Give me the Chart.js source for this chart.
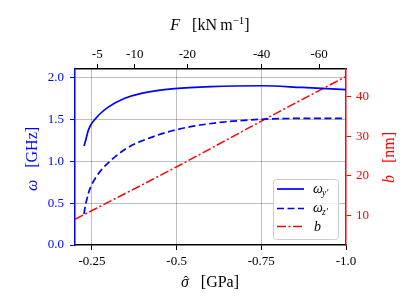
<!DOCTYPE html>
<html lang="en">
<head>
<meta charset="UTF-8">
<title>Frequencies and b vs stress</title>
<script src="https://cdn.jsdelivr.net/npm/chart.js"></script>
<style>
  body { margin: 0; background: #fff; }
  #wrap { width: 415px; height: 308px; }
</style>
</head>
<body>
<div id="wrap"><canvas id="chart" width="415" height="308"></canvas></div>
<script>
const sigma  = [-0.2265, -0.231, -0.2353, -0.239, -0.247, -0.259, -0.2765, -0.298, -0.347, -0.396, -0.494, -0.602, -0.75, -0.87, -1.0];
const omegaY = [1.18, 1.24, 1.31, 1.365, 1.435, 1.50, 1.575, 1.645, 1.75, 1.81, 1.865, 1.89, 1.90, 1.88, 1.855];
const omegaZ = [0.37, 0.48, 0.55, 0.61, 0.70, 0.79, 0.89, 0.98, 1.14, 1.24, 1.37, 1.45, 1.50, 1.51, 1.51];

// b [nm] (right axis)
const bSigma  = [-0.2, -0.494, -0.778, -1.0];
const bValues = [9.0, 22.0, 35.1, 45.1];

// tick labels
const sigmaTicks = [-0.25, -0.5, -0.75, -1.0];
const sigmaTickLabels = ['-0.25', '-0.5', '-0.75', '-1.0'];
const forceTickPos = [-0.2656, -0.3765, -0.5315, -0.7509, -0.9206]; // where F ticks sit on the sigma axis
const forceTickLabels = ['-5', '-10', '-20', '-40', '-60'];
const omegaTicks = [0, 0.5, 1.0, 1.5, 2.0];
const bTicks = [10, 20, 30, 40];

const serif = '"Liberation Serif", "DejaVu Serif", serif';
const BLUE = '#0000ff';
const RED = '#ff0000';
const GRID = 'rgba(0,0,0,0.32)';

function toPts(xs, ys) {
    return xs.map((x, i) => ({ x: x, y: ys[i] }));
}

// draw a row of text pieces with different fonts, centred on x
function drawRuns(ctx, runs, x, y) {
    let w = 0;
    runs.forEach(r => {
        ctx.font = r.font;
        r.w = r.over ? 0 : ctx.measureText(r.t).width;
        w += r.w;
    });
    let cx = x - w / 2, last = cx, lastW = 0;
    runs.forEach(r => {
        ctx.font = r.font;
        if (r.over) {
            const tw = ctx.measureText(r.t).width;
            ctx.fillText(r.t, last + (lastW - tw) / 2 + 1, y + (r.dy || 0));
        } else {
            ctx.fillText(r.t, cx, y + (r.dy || 0));
            last = cx; lastW = r.w;
            cx += r.w;
        }
    });
}

const extras = {
    id: 'extras',
    afterDraw(chart) {
        const ctx = chart.ctx;
        const it16 = 'italic 16px ' + serif, rm16 = '16px ' + serif;
        ctx.save();
        ctx.textBaseline = 'alphabetic';

        // top title
        ctx.fillStyle = '#000';
        drawRuns(ctx, [
            { t: 'F', font: it16 },
            { t: '   [kN\u2009m', font: rm16 },
            { t: '\u22121', font: '11px ' + serif, dy: -6.5 },
            { t: ']', font: rm16 }
        ], 210, 30);

        // bottom title
        drawRuns(ctx, [
            { t: '\u03c3', font: it16 },
            { t: '\u02c6', font: '14px ' + serif, over: true, dy: -1 },
            { t: '   [GPa]', font: rm16 }
        ], 210, 287);

        // left title
        ctx.save();
        ctx.translate(37, 159);
        ctx.rotate(-Math.PI / 2);
        ctx.fillStyle = BLUE;
        drawRuns(ctx, [{ t: '\u03c9', font: it16 }, { t: '   [GHz]', font: rm16 }], 0, 0);
        ctx.restore();

        // right title
        ctx.save();
        ctx.translate(394, 157.5);
        ctx.rotate(-Math.PI / 2);
        ctx.fillStyle = RED;
        drawRuns(ctx, [{ t: 'b', font: it16 }, { t: '   [nm]', font: rm16 }], 0, 0);
        ctx.restore();

        // legend box
        ctx.beginPath();
        ctx.roundRect(273.5, 179.5, 65, 60, 3);
        ctx.fillStyle = 'rgba(255,255,255,0.8)';
        ctx.fill();
        ctx.strokeStyle = '#cccccc';
        ctx.lineWidth = 1;
        ctx.stroke();

        chart.data.datasets.forEach((ds, i) => {
            const ly = [189, 208.5, 226.5][i];
            ctx.beginPath();
            ctx.setLineDash(ds.borderDash || []);
            ctx.strokeStyle = ds.borderColor;
            ctx.lineWidth = ds.borderWidth;
            ctx.moveTo(277, ly);
            ctx.lineTo(304, ly);
            ctx.stroke();
            ctx.setLineDash([]);
            ctx.fillStyle = '#000';
            ctx.textAlign = 'left';
            const it14 = 'italic 14px ' + serif, sub = 'italic 9.5px ' + serif;
            if (i === 0) {
                ctx.font = it14; ctx.fillText('\u03c9', 313, ly + 3.5);
                ctx.font = sub; ctx.fillText('y\u2032', 322, ly + 6.5);
            } else if (i === 1) {
                ctx.font = it14; ctx.fillText('\u03c9', 313, ly + 3.5);
                ctx.font = sub; ctx.fillText('z\u2032', 322, ly + 6.5);
            } else {
                ctx.font = it14; ctx.fillText('b', 314, ly + 4.5);
            }
        });
        ctx.restore();
    }
};

function fixedTicks(list) {
    return function (scale) { scale.ticks = list.map(v => ({ value: v })); };
}

const tickFont = { family: serif, size: 13 };

new Chart(document.getElementById('chart').getContext('2d'), {
    type: 'line',
    data: {
        datasets: [
            {
                label: 'omega_y',
                data: toPts(sigma, omegaY),
                borderColor: BLUE,
                borderWidth: 1.7,
                xAxisID: 'x', yAxisID: 'y'
            },
            {
                label: 'omega_z',
                data: toPts(sigma, omegaZ),
                borderColor: BLUE,
                borderWidth: 1.7,
                borderDash: [7, 3.5],
                xAxisID: 'x', yAxisID: 'y'
            },
            {
                label: 'b',
                data: toPts(bSigma, bValues),
                borderColor: RED,
                borderWidth: 1.5,
                borderDash: [9, 2.5, 2, 2.5],
                xAxisID: 'x', yAxisID: 'y2'
            }
        ]
    },
    options: {
        responsive: false,
        animation: false,
        layout: { padding: 0 },
        elements: {
            point: { radius: 0 },
            line: { cubicInterpolationMode: 'monotone', fill: false }
        },
        plugins: { legend: { display: false }, tooltip: { enabled: false } },
        scales: {
            x: {
                type: 'linear', position: 'bottom', min: -1.0, max: -0.2, reverse: true,
                afterBuildTicks: fixedTicks(sigmaTicks),
                afterFit(s) { s.height = 63; },
                border: { color: '#000', width: 1.5 },
                grid: {
                    color: c => (c.tick && c.tick.value === -1.0) ? 'rgba(0,0,0,0)' : GRID,
                    lineWidth: 0.8, tickColor: '#000', tickLength: 5, tickWidth: 1
                },
                ticks: {
                    color: '#000', font: tickFont, padding: 3.5, maxRotation: 0, autoSkip: false,
                    callback: (v, i) => sigmaTickLabels[i]
                }
            },
            x2: {
                type: 'linear', position: 'top', min: -1.0, max: -0.2, reverse: true,
                afterBuildTicks: fixedTicks(forceTickPos),
                afterFit(s) { s.height = 69; },
                border: { color: '#000', width: 1.5 },
                grid: { drawOnChartArea: false, tickColor: '#000', tickLength: 5, tickWidth: 1 },
                ticks: {
                    color: '#000', font: tickFont, padding: 2, maxRotation: 0, autoSkip: false,
                    callback: (v, i) => forceTickLabels[i]
                }
            },
            y: {
                type: 'linear', position: 'left', min: 0, max: 2.1,
                afterBuildTicks: fixedTicks(omegaTicks),
                afterFit(s) { s.width = 75; },
                border: { color: BLUE, width: 1.5 },
                grid: {
                    color: c => (c.tick && c.tick.value === 0) ? 'rgba(0,0,0,0)' : GRID,
                    lineWidth: 0.8, tickColor: BLUE, tickLength: 5, tickWidth: 1
                },
                ticks: {
                    color: BLUE, font: tickFont, padding: 6,
                    callback: v => v.toFixed(1)
                }
            },
            y2: {
                type: 'linear', position: 'right', min: 2.5, max: 47.0,
                afterBuildTicks: fixedTicks(bTicks),
                afterFit(s) { s.width = 69; },
                border: { color: RED, width: 1.5 },
                grid: { drawOnChartArea: false, tickColor: RED, tickLength: 5, tickWidth: 1 },
                ticks: {
                    color: RED, font: tickFont, padding: 5,
                    callback: v => String(v)
                }
            }
        }
    },
    plugins: [extras]
});
</script>
</body>
</html>
